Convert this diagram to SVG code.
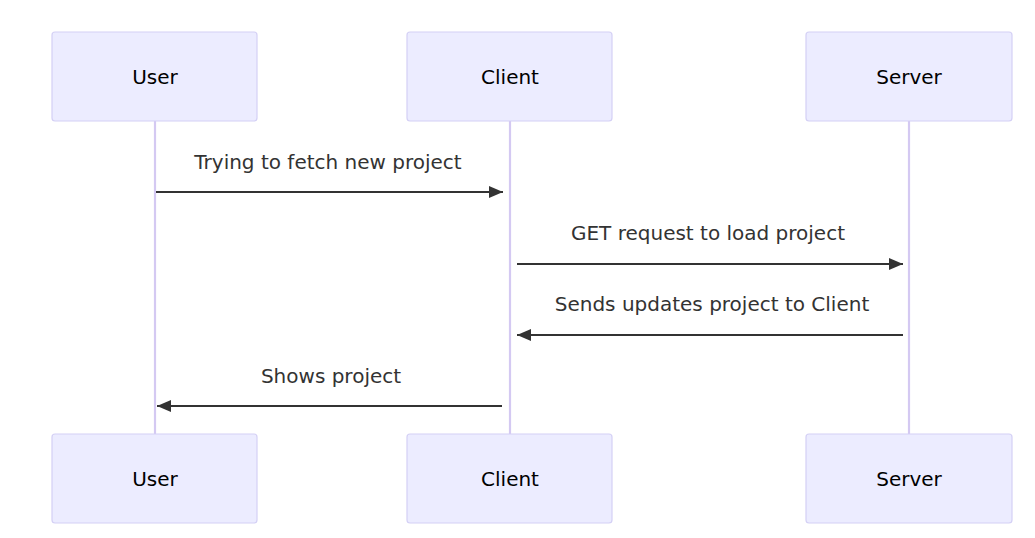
<svg xmlns="http://www.w3.org/2000/svg" width="1035" height="538" viewBox="0 0 1035 538">
<style>
.actor{fill:#ECECFF;stroke:#D4D0F5;stroke-width:1.2}
.life{stroke:#D4C9F2;stroke-width:2.2}
.at{font-family:"DejaVu Sans",sans-serif;font-size:20px;fill:#000;text-anchor:middle;dominant-baseline:central}
.mt{font-family:"DejaVu Sans",sans-serif;font-size:20px;fill:#333;text-anchor:middle;dominant-baseline:central}
.msg{stroke:#333;stroke-width:2;fill:none}
</style>
<defs>
<marker id="ah" viewBox="0 0 14 12" refX="14" refY="6" markerWidth="14" markerHeight="12" markerUnits="userSpaceOnUse" orient="auto">
<path d="M0,0 L14,6 L0,12 z" fill="#333"/>
</marker>
</defs>
<rect width="1035" height="538" fill="#fff"/>
<g id="lifelines">
<line class="life" x1="155" y1="121" x2="155" y2="434"/>
<line class="life" x1="510" y1="121" x2="510" y2="434"/>
<line class="life" x1="909" y1="121" x2="909" y2="434"/>
</g>
<g id="user-top"><rect class="actor" x="52" y="32" width="205" height="89" rx="3"/><text class="at" x="155" y="77">User</text></g>
<g id="client-top"><rect class="actor" x="407" y="32" width="205" height="89" rx="3"/><text class="at" x="510" y="77">Client</text></g>
<g id="server-top"><rect class="actor" x="806" y="32" width="206" height="89" rx="3"/><text class="at" x="909" y="77">Server</text></g>
<g id="user-bottom"><rect class="actor" x="52" y="434" width="205" height="89" rx="3"/><text class="at" x="155" y="479">User</text></g>
<g id="client-bottom"><rect class="actor" x="407" y="434" width="205" height="89" rx="3"/><text class="at" x="510" y="479">Client</text></g>
<g id="server-bottom"><rect class="actor" x="806" y="434" width="206" height="89" rx="3"/><text class="at" x="909" y="479">Server</text></g>
<g id="connectors">
<line class="msg" x1="156" y1="192" x2="503" y2="192" marker-end="url(#ah)"/>
<text class="mt" x="328" y="162">Trying to fetch new project</text>
<line class="msg" x1="517" y1="264" x2="903" y2="264" marker-end="url(#ah)"/>
<text class="mt" x="708" y="233">GET request to load project</text>
<line class="msg" x1="903" y1="335" x2="517" y2="335" marker-end="url(#ah)"/>
<text class="mt" x="712" y="304">Sends updates project to Client</text>
<line class="msg" x1="502" y1="406" x2="157" y2="406" marker-end="url(#ah)"/>
<text class="mt" x="331" y="376">Shows project</text>
</g>
</svg>
